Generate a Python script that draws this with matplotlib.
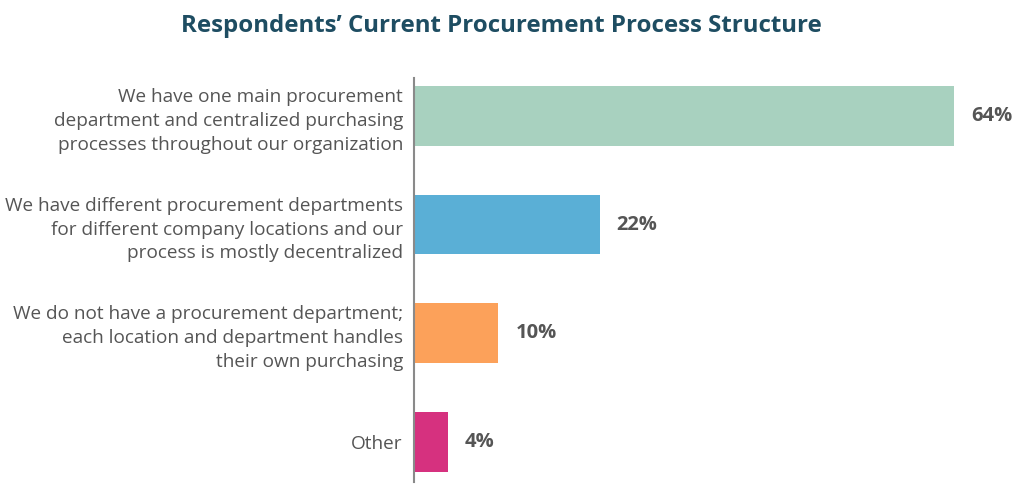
import matplotlib.pyplot as plt

# --- dados ---
categorias = [
    "We have one main procurement\ndepartment and centralized purchasing\nprocesses throughout our organization",
    "We have different procurement departments\nfor different company locations and our\nprocess is mostly decentralized",
    "We do not have a procurement department;\neach location and department handles\ntheir own purchasing",
    "Other",
]
valores = [64, 22, 10, 4]
cores = ["#a8d1bf", "#5aafd6", "#fca15a", "#d6317f"]
titulo = "Respondents\u2019 Current Procurement Process Structure"

plt.rcParams['font.family'] = ['Open Sans', 'DejaVu Sans']

fig = plt.figure(figsize=(10.24, 4.94), dpi=100)
ax = fig.add_axes([414 / 1024, 12 / 494, 608 / 1024, 404 / 494])

posicoes = list(range(len(valores)))
ax.barh(posicoes, valores, height=0.55, color=cores)

for p, v in zip(posicoes, valores):
    ax.text(v + 2, p, f"{v}%", va='center', ha='left', fontsize=14.5,
            fontweight='bold', color='#555555')

ax.set_xlim(0, 72)
ax.set_ylim(3.37, -0.35)
ax.set_yticks(posicoes)
ax.set_yticklabels(categorias, fontsize=13.7, color='#555555', linespacing=1.42)
ax.tick_params(axis='y', length=0, pad=8)
ax.set_xticks([])

for s in ['top', 'right', 'bottom']:
    ax.spines[s].set_visible(False)
ax.spines['left'].set_color('#8a8a8a')
ax.spines['left'].set_linewidth(1.5)

fig.text(0.49, 0.948, titulo, ha='center', va='center', fontsize=17.3,
         fontweight='bold', color='#1e4d62')

fig.savefig("out.png", dpi=100)
